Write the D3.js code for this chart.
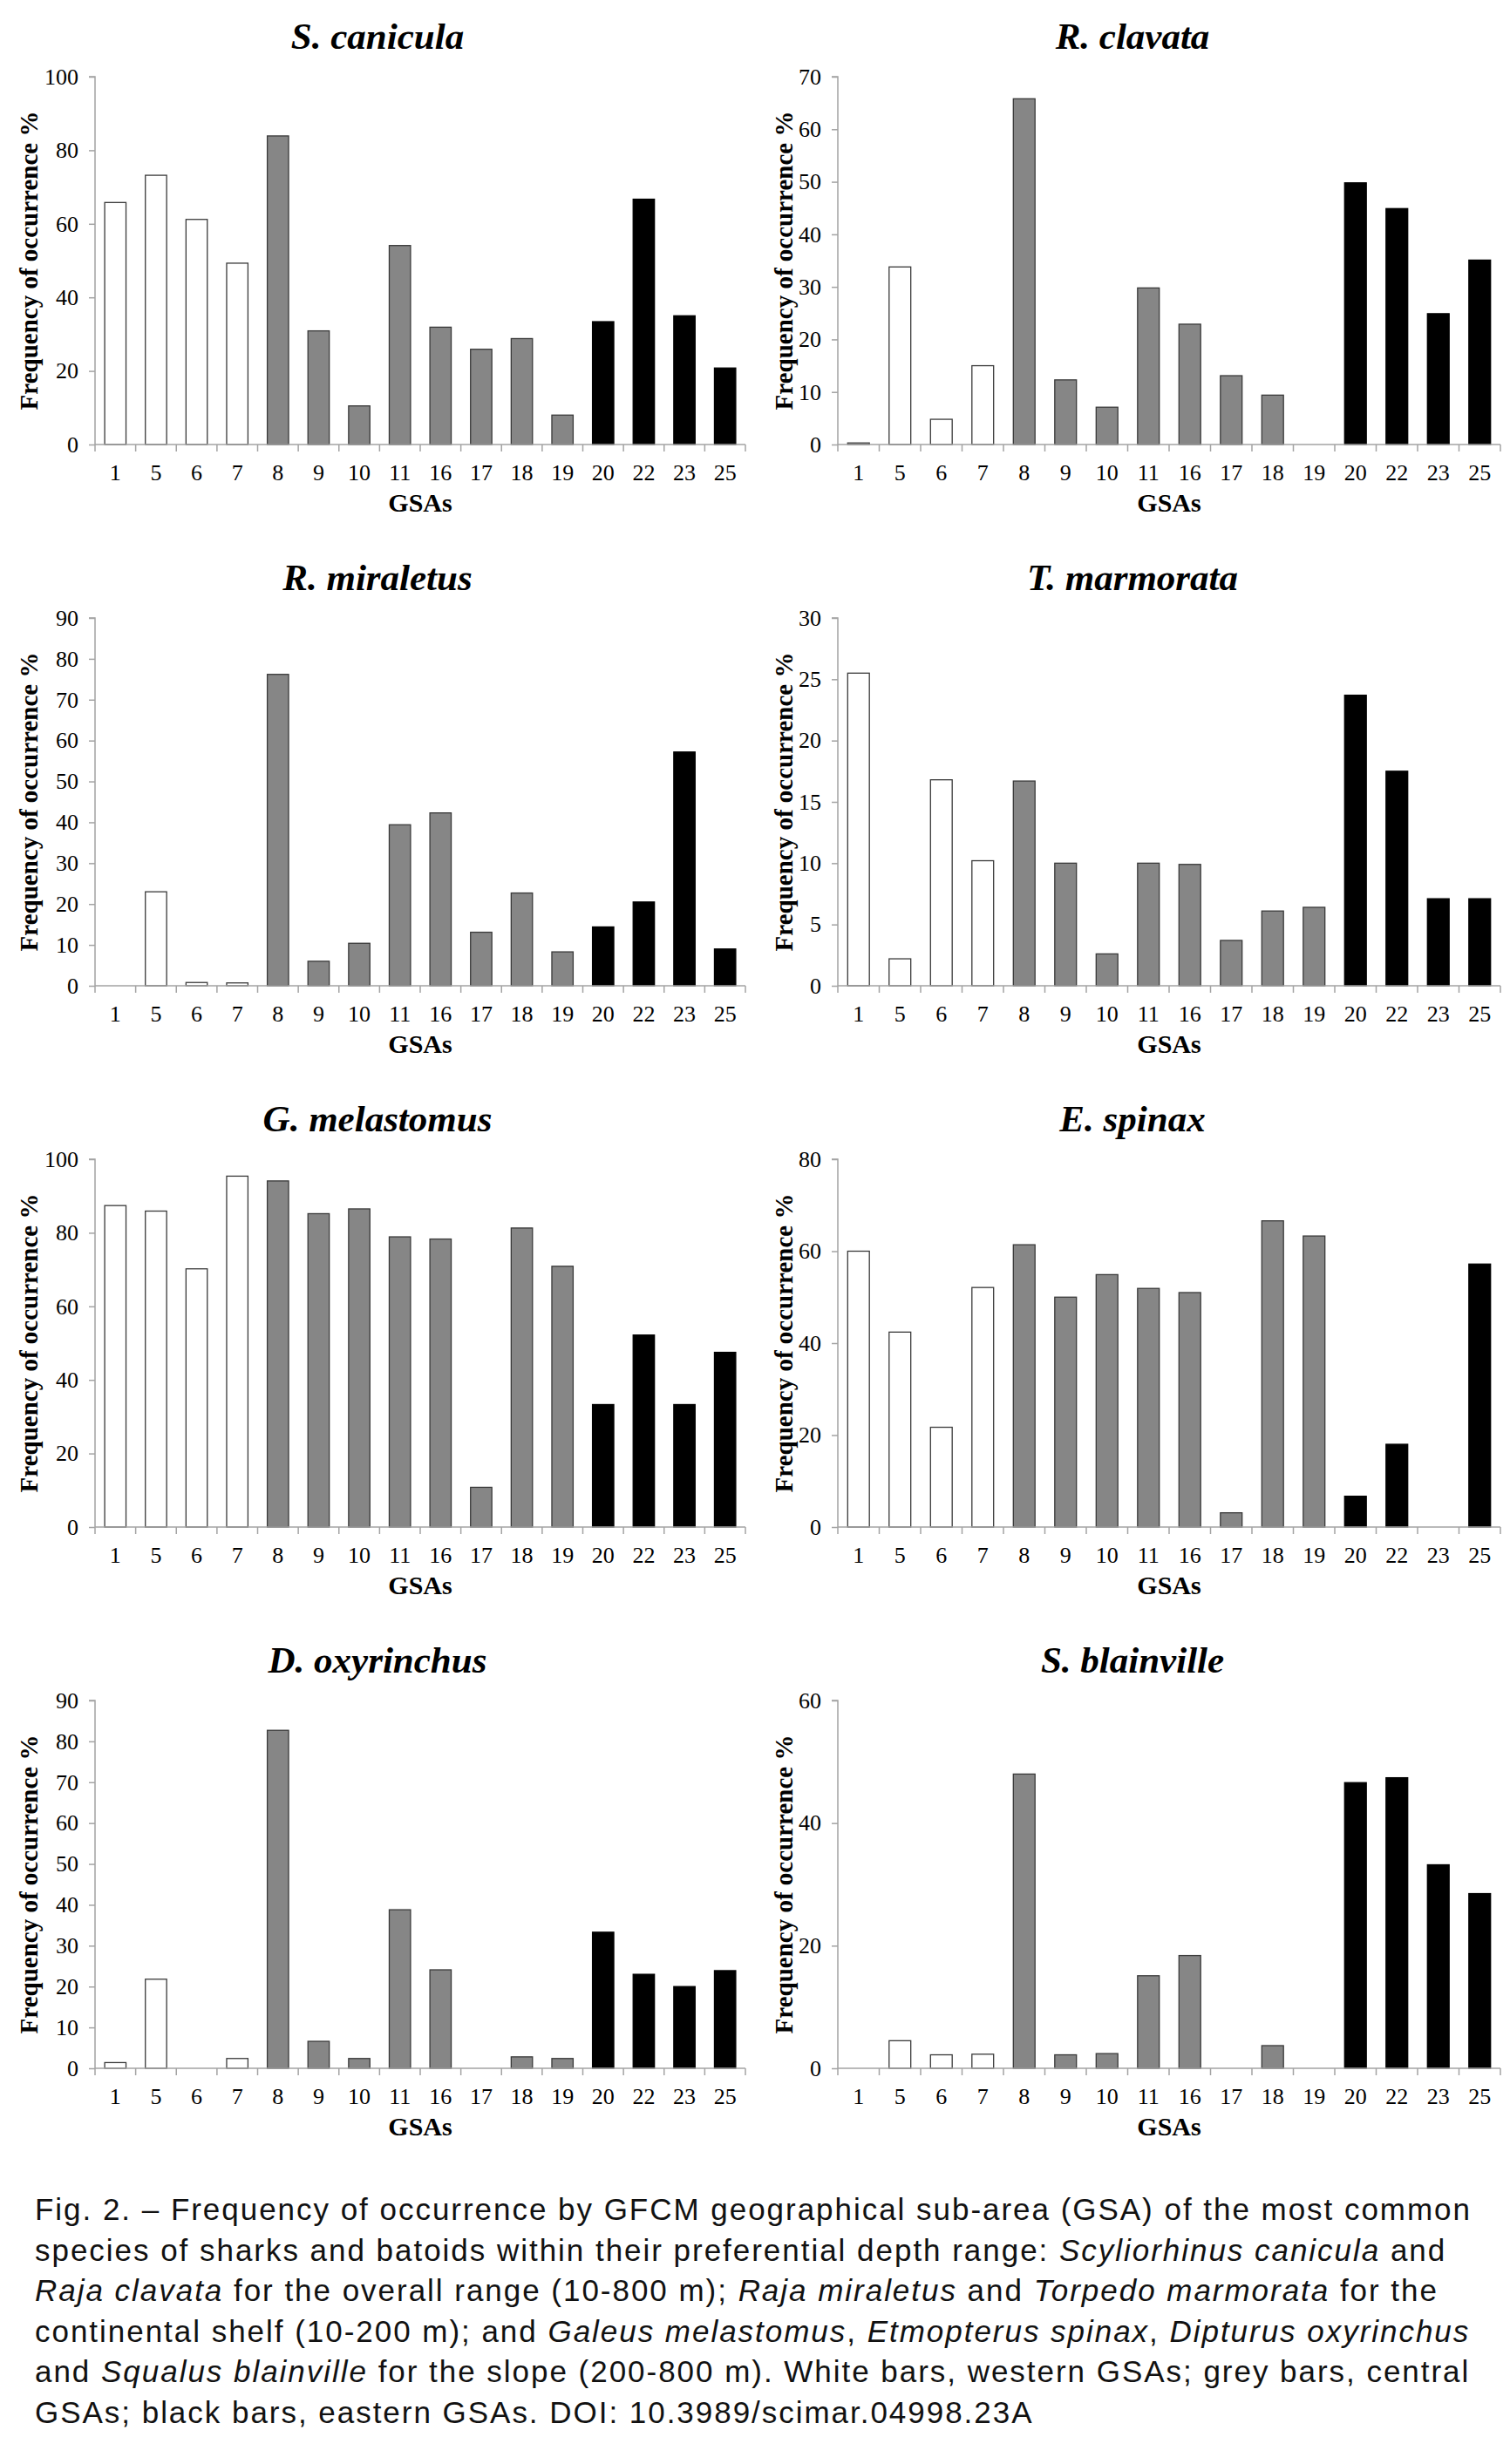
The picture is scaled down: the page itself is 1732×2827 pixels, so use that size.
<!DOCTYPE html>
<html>
<head>
<meta charset="utf-8">
<script src="https://cdn.jsdelivr.net/npm/d3@7"></script>
<style>
  html, body { margin: 0; padding: 0; background: #fff; }
  svg { display: block; }
</style>
</head>
<body>
<svg id="chart" width="1732" height="2827"></svg>
<script>
// ---------------- DATA ----------------
const gsas = ["1","5","6","7","8","9","10","11","16","17","18","19","20","22","23","25"];
const westGSAs = ["1","5","6","7"];
const centralGSAs = ["8","9","10","11","16","17","18","19"];
const eastGSAs = ["20","22","23","25"];

const species = ["S. canicula","R. clavata","R. miraletus","T. marmorata","G. melastomus","E. spinax","D. oxyrinchus","S. blainville"];

const sCanicula   = [65.8,73.2,61.2,49.3,83.9,30.9,10.5,54.1,31.9,25.9,28.8,8.0,33.4,66.7,35.0,20.8];
const rClavata    = [0.3,33.8,4.8,15.0,65.8,12.3,7.1,29.8,22.9,13.1,9.4,0,49.8,44.9,24.9,35.1];
const rMiraletus  = [0,23.0,0.8,0.7,76.2,6.0,10.4,39.4,42.3,13.1,22.7,8.3,14.4,20.5,57.2,9.0];
const tMarmorata  = [25.5,2.2,16.8,10.2,16.7,10.0,2.6,10.0,9.9,3.7,6.1,6.4,23.7,17.5,7.1,7.1];
const gMelastomus = [87.4,85.9,70.2,95.4,94.1,85.2,86.5,78.9,78.3,10.8,81.3,70.9,33.3,52.2,33.3,47.5];
const eSpinax     = [60.0,42.4,21.7,52.1,61.4,50.0,54.9,51.9,51.0,3.1,66.6,63.3,6.7,18.0,0,57.2];
const dOxyrinchus = [1.4,21.8,0,2.4,82.7,6.6,2.4,38.8,24.1,0,2.8,2.4,33.3,23.0,20.0,23.9];
const sBlainville = [0,4.5,2.2,2.3,48.0,2.2,2.4,15.1,18.4,0,3.7,0,46.6,47.4,33.2,28.5];

const seriesValues = [sCanicula, rClavata, rMiraletus, tMarmorata, gMelastomus, eSpinax, dOxyrinchus, sBlainville];
const yMaxes  = [100, 70, 90, 30, 100, 80, 90, 60];
const yTickSteps = [20, 10, 10, 5, 20, 20, 10, 20];

const yAxisTitle = "Frequency of occurrence %";
const xAxisTitle = "GSAs";

const captionLines = [
  [["Fig. 2. – Frequency of occurrence by GFCM geographical sub-area (GSA) of the most common", false]],
  [["species of sharks and batoids within their preferential depth range: ", false], ["Scyliorhinus canicula", true], [" and", false]],
  [["Raja clavata", true], [" for the overall range (10-800 m); ", false], ["Raja miraletus", true], [" and ", false], ["Torpedo marmorata", true], [" for the", false]],
  [["continental shelf (10-200 m); and ", false], ["Galeus melastomus", true], [", ", false], ["Etmopterus spinax", true], [", ", false], ["Dipturus oxyrinchus", true]],
  [["and ", false], ["Squalus blainville", true], [" for the slope (200-800 m). White bars, western GSAs; grey bars, central", false]],
  [["GSAs; black bars, eastern GSAs. DOI: 10.3989/scimar.04998.23A", false]]
];

// ---------------- LAYOUT ----------------
const svg = d3.select("#chart");
const colLeft = [{x0: 109, x1: 855, panelX: 0}, {x0: 961, x1: 1721, panelX: 866}];
const rowTop = [88, 709, 1330, 1951];
const plotH = 422;
const panelW = 866;

const serif = "'Liberation Serif', 'Times New Roman', serif";
const axisColor = "#a3a3a3";

function fillFor(g) {
  if (westGSAs.includes(g)) return "#ffffff";
  if (centralGSAs.includes(g)) return "#868686";
  return "#000000";
}
function strokeFor(g) {
  if (eastGSAs.includes(g)) return "#000000";
  return "#3a3a3a";
}

species.forEach((name, i) => {
  const col = colLeft[i % 2];
  const top = rowTop[Math.floor(i / 2)];
  const bottom = top + plotH;
  const vals = seriesValues[i];
  const g = svg.append("g");

  const x = d3.scaleBand().domain(gsas).range([col.x0, col.x1]).paddingInner(0.476).paddingOuter(0.238);
  const y = d3.scaleLinear().domain([0, yMaxes[i]]).range([bottom, top]);

  // Title
  g.append("text")
    .attr("x", col.panelX + panelW / 2)
    .attr("y", top - 32)
    .attr("text-anchor", "middle")
    .attr("font-family", serif)
    .attr("font-weight", "bold")
    .attr("font-style", "italic")
    .attr("font-size", 43)
    .text(name);

  // Bars
  const data = gsas.map((k, j) => ({k, v: vals[j]})).filter(d => d.v > 0);
  g.selectAll("rect.bar").data(data).join("rect")
    .attr("class", "bar")
    .attr("x", d => x(d.k))
    .attr("width", x.bandwidth())
    .attr("y", d => y(d.v))
    .attr("height", d => y(0) - y(d.v))
    .attr("fill", d => fillFor(d.k))
    .attr("stroke", d => strokeFor(d.k))
    .attr("stroke-width", 1.3);

  // Y axis
  const ticks = d3.range(0, yMaxes[i] + 0.001, yTickSteps[i]);
  const yAxis = d3.axisLeft(y).tickValues(ticks).tickSize(7).tickPadding(12).tickFormat(d3.format("d"));
  const ya = g.append("g").attr("transform", `translate(${col.x0},0)`).call(yAxis);
  ya.select(".domain").attr("stroke", axisColor).attr("stroke-width", 1.5).attr("d", `M-7,${top}H0V${bottom}`);
  ya.selectAll(".tick line").attr("stroke", axisColor).attr("stroke-width", 1.5);
  ya.selectAll(".tick text").attr("font-family", serif).attr("font-size", 26).attr("fill", "#000");

  // X axis (category labels)
  const xAxis = d3.axisBottom(x).tickSize(0).tickPadding(23);
  const xa = g.append("g").attr("transform", `translate(0,${bottom})`).call(xAxis);
  xa.select(".domain").attr("stroke", axisColor).attr("stroke-width", 1.5).attr("d", `M${col.x0},0H${col.x1}`);
  xa.selectAll(".tick text").attr("font-family", serif).attr("font-size", 26).attr("fill", "#000");

  // boundary ticks between categories
  const step = x.step();
  const bounds = d3.range(gsas.length + 1).map(j => col.x0 + j * step);
  g.selectAll("line.xb").data(bounds).join("line")
    .attr("class", "xb")
    .attr("x1", d => d).attr("x2", d => d)
    .attr("y1", bottom).attr("y2", bottom + 8)
    .attr("stroke", axisColor).attr("stroke-width", 1.5);

  // Axis titles
  g.append("text")
    .attr("transform", `translate(${col.panelX + 43},${(top + bottom) / 2}) rotate(-90)`)
    .attr("text-anchor", "middle")
    .attr("font-family", serif)
    .attr("font-weight", "bold")
    .attr("font-size", 29)
    .text(yAxisTitle);

  g.append("text")
    .attr("x", (col.x0 + col.x1) / 2)
    .attr("y", bottom + 77)
    .attr("text-anchor", "middle")
    .attr("font-family", serif)
    .attr("font-weight", "bold")
    .attr("font-size", 30)
    .text(xAxisTitle);
});

// ---------------- CAPTION ----------------
const sans = "'Liberation Sans', Arial, Helvetica, sans-serif";
const cap = svg.append("g");
const capSize = 35;
const texts = captionLines.map((parts, li) => {
  const t = cap.append("text")
    .attr("x", 40)
    .attr("y", 2547 + li * 46.6)
    .attr("font-family", sans)
    .attr("font-size", capSize)
    .attr("fill", "#111");
  parts.forEach(([s, it]) => {
    t.append("tspan").attr("font-style", it ? "italic" : "normal").text(s);
  });
  return t;
});
// widen letter spacing so the first line spans the same width as the original caption
const first = texts[0].node();
const w0 = first.getComputedTextLength();
const nChars = captionLines[0].map(p => p[0]).join("").length;
const ls = Math.max(0, (1648 - w0) / nChars);
texts.forEach(t => t.attr("letter-spacing", ls));
</script>
</body>
</html>
